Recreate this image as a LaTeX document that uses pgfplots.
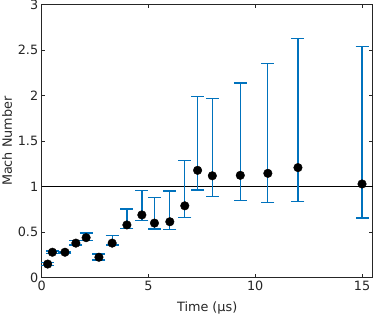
\documentclass[border=0pt]{standalone}
\usepackage{pgfplots}
\usepackage{pgfplotstable}
\pgfplotsset{compat=1.18}
\usepackage{fontspec}
\setmainfont{DejaVu Sans}
\definecolor{mblue}{RGB}{0,114,189}
\definecolor{mgray}{RGB}{38,38,38}
\pgfplotstableread{
x y ep em
0.28 0.15 0.015 0.015
0.50 0.28 0.015 0.015
1.09 0.28 0.01 0.01
1.60 0.38 0.03 0.02
2.08 0.44 0.05 0.03
2.68 0.225 0.035 0.03
3.30 0.38 0.086 0.02
3.99 0.58 0.175 0.04
4.69 0.69 0.27 0.065
5.28 0.60 0.28 0.065
6.00 0.615 0.338 0.085
6.70 0.79 0.496 0.126
7.30 1.18 0.81 0.216
7.99 1.12 0.847 0.23
9.30 1.125 1.015 0.275
10.59 1.147 1.203 0.317
12.00 1.21 1.42 0.375
15.00 1.03 1.51 0.374
}\datatable
\begin{document}
\begin{tikzpicture}
\begin{axis}[
  scale only axis,
  width=331bp, height=273bp,
  xmin=0, xmax=15.5, ymin=0, ymax=3,
  xtick={0,5,10,15}, ytick={0,0.5,1,1.5,2,2.5,3},
  yticklabels={0,0.5,1,1.5,2,2.5,3},
  tick align=inside,
  major tick length=3.3bp,
  axis line style={mgray, line width=0.6bp},
  every tick/.style={mgray, line width=0.6bp},
  tick label style={font=\fontsize{12.8bp}{15bp}\selectfont, text=mgray},
  label style={font=\fontsize{12.8bp}{15bp}\selectfont, text=mgray},
  /pgf/number format/assume math mode=true,
  xlabel={Time (μs)},
  ylabel={Mach Number},
  xlabel style={yshift=-4bp},
  ylabel style={yshift=-1bp},
  clip=false,
]
\addplot[black, line width=0.8bp, forget plot] coordinates {(0,1) (15.5,1)};
\addplot[only marks, draw=none, mark=none,
  error bars/.cd, y dir=both, y explicit,
  error bar style={mblue, line width=1.3bp},
  error mark options={mblue, line width=1.3bp, mark size=6.5bp, rotate=90}]
  table[x=x, y=y, y error plus=ep, y error minus=em] {\datatable};
\addplot[only marks, mark=*, mark size=4.3bp, black, mark options={fill=black}]
  table[x=x, y=y] {\datatable};
\end{axis}
\pgfresetboundingbox
\path (-41.7bp,-38.3bp) rectangle (332.3bp,277.7bp);
\end{tikzpicture}
\end{document}
